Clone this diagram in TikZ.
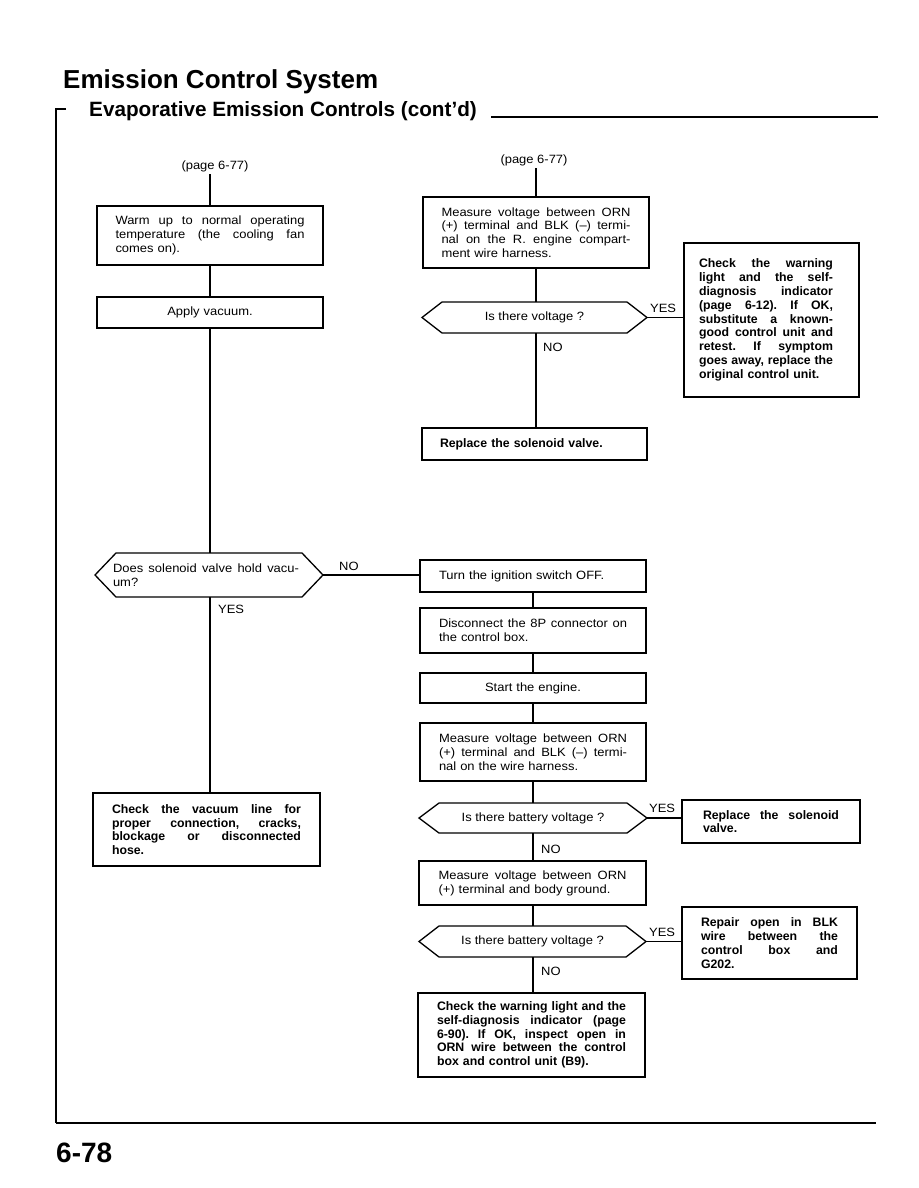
\documentclass[tikz,border=0pt]{standalone}
\usepackage{fontspec}
\setmainfont[FakeStretch=1.08, BoldFeatures={FakeStretch=1.0}]{Liberation Sans}
\newfontfamily\hd{Liberation Sans}
\usetikzlibrary{calc}
\newcommand\fs{\fontsize{12}{13.8}\selectfont}
\newcommand\fb{\fontsize{12.3}{13.8}\selectfont\bfseries}
\newcommand\J[2][\linewidth]{\makebox[#1][s]{\frenchspacing\spaceskip=0pt\xspaceskip=0pt #2}}
\tikzset{
  ln/.style={line width=1.3pt},
  bx/.style={draw, line width=1.3pt, rectangle, inner sep=0pt, outer sep=0pt, anchor=north west, align=left, font=\fs},
  bb/.style={bx, font=\fb},
  hx/.style={rectangle, inner sep=0pt, outer sep=0pt, anchor=north west, align=center, font=\fs},
  lb/.style={inner sep=2pt, font=\fs},
  hexa/.style={line width=1.3pt, line join=miter}
}
\newcommand\hexdraw[2]{\draw[hexa] (#1.west) -- ([xshift=#2]#1.north west) -- ([xshift=-#2]#1.north east) -- (#1.east) -- ([xshift=-#2]#1.south east) -- ([xshift=#2]#1.south west) -- cycle;}
\begin{document}
\begin{tikzpicture}[x=1pt,y=-1pt]
\useasboundingbox (0,0) rectangle (918,1188);
% titles and frame
\node[anchor=base west, inner sep=0pt, font=\hd\fontsize{26}{30}\selectfont\bfseries] (title) at (63,89) {Emission Control System};
\node[anchor=base west, inner sep=0pt, font=\hd\fontsize{20.7}{24}\selectfont\bfseries] (sub) at (89,117) {Evaporative Emission Controls (cont’d)};
\node[anchor=base west, inner sep=0pt, font=\hd\fontsize{28}{30}\selectfont\bfseries] (pg) at (56,1162) {6-78};
\draw[line width=1.3pt] (66,109) -- (56,109) -- (56,1123);
\draw[line width=2pt] (56,1123) -- (876,1123);
\draw[line width=1.4pt] (491,117) -- (878,117);

% left column
\node[lb] (p1) at (215,166) {(page 6-77)};
\node[bx, minimum width=226pt, minimum height=59pt, text width=189pt] (b1) at (97,206)
 {\J{Warm up to normal operating}\\ \J{temperature (the cooling fan}\\ comes on).};
\node[bx, align=center, minimum width=226pt, minimum height=31pt, text width=189pt] (b2) at (97,297) {Apply vacuum.};
\node[hx, align=left, minimum width=228pt, minimum height=44pt, text width=192pt] (h1) at (95,553)
 {\J[186pt]{Does solenoid valve hold vacu-}\\ um?};
\hexdraw{h1}{21pt}
\node[lb, anchor=west] (no1) at (337,566) {NO};
\node[lb, anchor=west] (yes1) at (216,609) {YES};
\node[bb, minimum width=227pt, minimum height=73pt, text width=189pt] (c1) at (93,793)
 {\J{Check the vacuum line for}\\ \J{proper connection, cracks,}\\ \J{blockage or disconnected}\\ hose.};

% middle upper
\node[lb] (p2) at (534,160) {(page 6-77)};
\node[bx, minimum width=226pt, minimum height=71pt, text width=189pt] (m1) at (423,197)
 {\J{Measure voltage between ORN}\\ \J{(+) terminal and BLK (--) termi-}\\ \J{nal on the R. engine compart-}\\ ment wire harness.};
\node[hx, minimum width=225pt, minimum height=31pt] (h2) at (422,302) {Is there voltage ?};
\hexdraw{h2}{20pt}
\node[lb, anchor=west] (yes2) at (648,308) {YES};
\node[lb, anchor=west] (no2) at (541,347) {NO};
\node[bb, minimum width=175pt, minimum height=154pt, text width=145pt] (w1) at (684,243)
 {\J[134pt]{Check the warning}\\ \J[134pt]{light and the self-}\\ \J[134pt]{diagnosis indicator}\\ \J[134pt]{(page 6-12). If OK,}\\ \J[134pt]{substitute a known-}\\ \J[134pt]{good control unit and}\\ \J[134pt]{retest. If symptom}\\ \J[134pt]{goes away, replace the}\\ original control unit.};
\node[bb, minimum width=225pt, minimum height=32pt, text width=189pt] (r1) at (422,428) {Replace the solenoid valve.};

% middle lower
\node[bx, minimum width=226pt, minimum height=32pt, text width=188pt] (t1) at (420,560) {Turn the ignition switch OFF.};
\node[bx, minimum width=226pt, minimum height=45pt, text width=188pt] (d1) at (420,608)
 {\J{Disconnect the 8P connector on}\\ the control box.};
\node[bx, align=center, minimum width=226pt, minimum height=30pt, text width=188pt] (s1) at (420,673) {Start the engine.};
\node[bx, minimum width=226pt, minimum height=58pt, text width=188pt] (m2) at (420,723)
 {\J{Measure voltage between ORN}\\ \J{(+) terminal and BLK (--) termi-}\\ nal on the wire harness.};
\node[hx, minimum width=228pt, minimum height=30pt] (h3) at (419,803) {Is there battery voltage ?};
\hexdraw{h3}{20pt}
\node[lb, anchor=west] (yes3) at (647,808) {YES};
\node[lb, anchor=west] (no3) at (539,849) {NO};
\node[bb, minimum width=178pt, minimum height=43pt, text width=136pt] (r2) at (682,800)
 {\J{Replace the solenoid}\\ valve.};
\node[bx, minimum width=227pt, minimum height=44pt, text width=188pt] (m3) at (419,861)
 {\J{Measure voltage between ORN}\\ (+) terminal and body ground.};
\node[hx, minimum width=227pt, minimum height=31pt] (h4) at (419,926) {Is there battery voltage ?};
\hexdraw{h4}{20pt}
\node[lb, anchor=west] (yes4) at (647,932) {YES};
\node[lb, anchor=west] (no4) at (539,971) {NO};
\node[bb, minimum width=175pt, minimum height=72pt, text width=137pt] (r3) at (682,907)
 {\J{Repair open in BLK}\\ \J{wire between the}\\ \J{control box and}\\ G202.};
\node[bb, minimum width=227pt, minimum height=84pt, text width=189pt] (c2) at (418,993)
 {\J{Check the warning light and the}\\ \J{self-diagnosis indicator (page}\\ \J{6-90). If OK, inspect open in}\\ \J{ORN wire between the control}\\ box and control unit (B9).};

% connectors left
\draw[ln] (b1.north) -- (b1.north |- p1.south);
\draw[ln] (b1.south) -- (b2.north);
\draw[ln] (b2.south) -- (b2.south |- h1.north);
\draw[ln] (b2.south |- h1.south) -- (b2.south |- c1.north);
\draw[ln] (h1.east) -- (h1.east -| t1.west);
% connectors middle upper
\draw[ln] (m1.north) -- (m1.north |- p2.south);
\draw[ln] (m1.south) -- (m1.south |- h2.north);
\draw[ln] (h2.east) -- (h2.east -| w1.west);
\draw[ln] (m1.south |- h2.south) -- (m1.south |- r1.north);
% connectors middle lower
\draw[ln] (t1.south) -- (d1.north);
\draw[ln] (d1.south) -- (s1.north);
\draw[ln] (s1.south) -- (m2.north);
\draw[ln] (m2.south) -- (m2.south |- h3.north);
\draw[ln] (m2.south |- h3.south) -- (m2.south |- m3.north);
\draw[ln] (h3.east) -- (h3.east -| r2.west);
\draw[ln] (m2.south |- m3.south) -- (m2.south |- h4.north);
\draw[ln] (m2.south |- h4.south) -- (m2.south |- c2.north);
\draw[ln] (h4.east) -- (h4.east -| r3.west);
\end{tikzpicture}
\end{document}
